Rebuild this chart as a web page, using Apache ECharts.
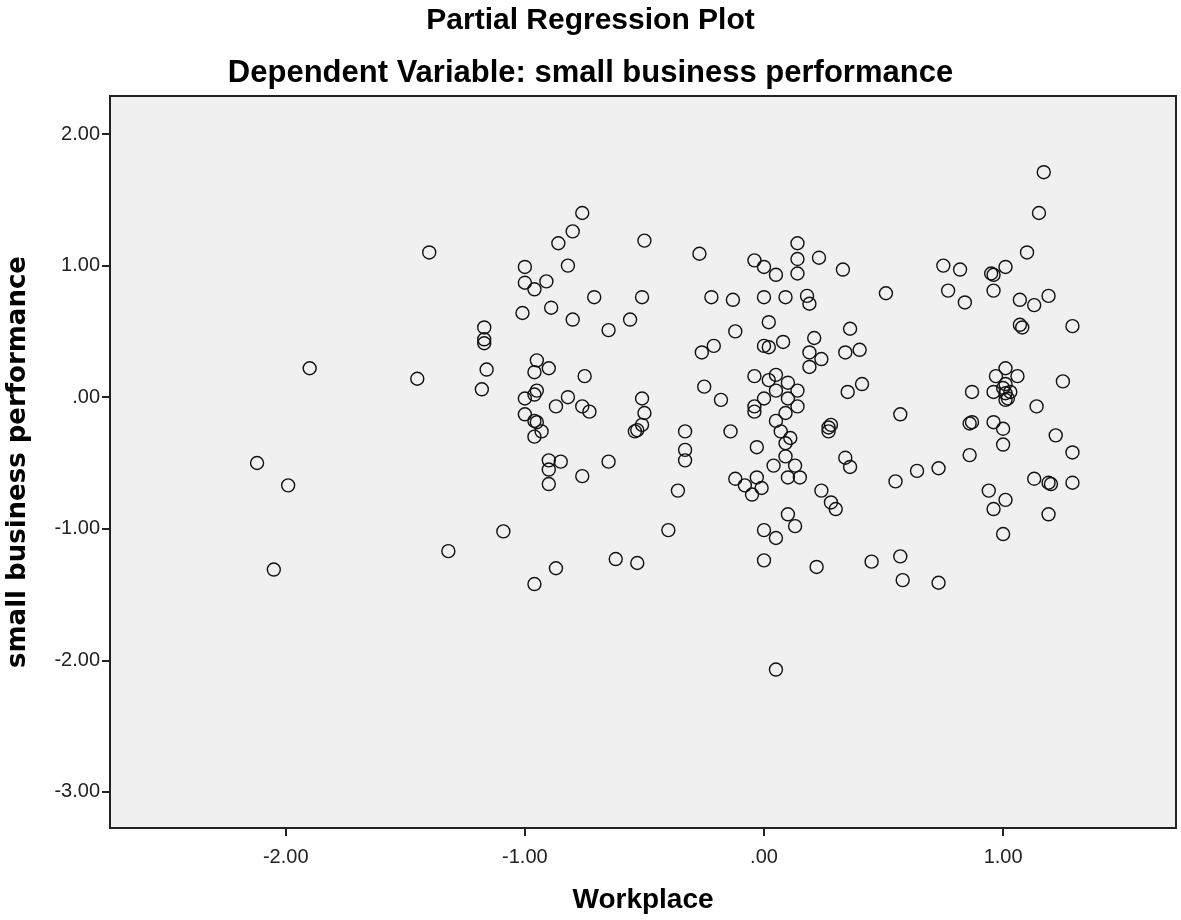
<!DOCTYPE html>
<html>
<head>
<meta charset="utf-8">
<script src="https://cdn.jsdelivr.net/npm/echarts@6/dist/echarts.min.js"></script>
<style>
html,body{margin:0;padding:0;background:#fff;}
#chart{width:1181px;height:920px;}
</style>
</head>
<body>
<div id="chart"></div>
<script>
const chartTitle = "Partial Regression Plot";
const chartSubtitle = "Dependent Variable: small business performance";
const xAxisName = "Workplace";
const yAxisName = "small business performance";

const xTickValues = [-2, -1, 0, 1];
const yTickValues = [-3, -2, -1, 0, 1, 2];

const workplaceX = [
  -2.12, -1.99, -2.05, -1.90, -1.40, -1.45, -1.32, -1.09,
  -1.17, -1.17, -1.17, -1.16, -1.18,
  -0.76, -0.80, -0.86, -0.50, -0.27, -1.00, -0.82, -1.00, -0.91, -0.96, -1.01, -0.89, -0.80, -0.71, -0.65, -0.56, -0.51, -0.22, -0.13, -0.12, -0.26, -0.21,
  -0.04, 0.00, 0.05, 0.14, 0.14, 0.14, 0.23, 0.33, 0.00, 0.09, 0.18, 0.19, 0.02, 0.00, 0.02, 0.08, 0.21, 0.36, 0.34, 0.40, 0.19, 0.24, 0.19, 0.35, 0.41,
  1.17, 1.15, 1.10, 0.75, 0.82, 0.96, 0.95, 1.01, 0.51, 0.77, 0.84, 0.96, 1.07, 1.13, 1.19, 1.07, 1.08, 1.29,
  -0.95, -0.90, -0.96, -0.75, -0.95, -0.96, -1.00, -0.82, -0.87, -0.76, -0.73, -1.00, -0.96, -0.95, -0.93, -0.96, -0.51, -0.50, -0.51, -0.54, -0.53, -0.33, -0.33, -0.33, -0.14, -0.25, -0.18, -0.03,
  -0.04, 0.02, 0.05, 0.10, 0.14, 0.05, 0.00, 0.10, 0.14, -0.04, -0.04, 0.09, 0.05, 0.07, 0.11, 0.09, 0.09, 0.13, 0.04, 0.10, 0.15, -0.12, -0.03, -0.08, -0.01, -0.05, 0.24, 0.28, 0.30, 0.27, 0.28, 0.27, 0.34, 0.36, 0.10, 0.13, 0.00, 0.05, 0.00, 0.22, 0.05,
  -0.90, -0.90, -0.85, -0.90, -0.76, -0.65, -0.36, -0.40, -0.87, -0.96, -0.62, -0.53,
  0.57, 0.55, 0.64, 0.73, 0.86, 0.87, 0.86, 0.87, 0.97, 1.01, 1.06, 0.96, 1.01, 1.03, 1.01, 1.01, 1.00, 1.02, 1.25, 1.14, 0.96, 1.00, 1.00, 1.22, 1.29, 1.13, 1.20, 1.19, 1.29, 0.94, 1.01, 0.96, 1.19, 1.00, 0.45, 0.57, 0.58, 0.73
];

const performanceY = [
  -0.50, -0.67, -1.31, 0.22, 1.10, 0.14, -1.17, -1.02,
  0.53, 0.44, 0.41, 0.21, 0.06,
  1.40, 1.26, 1.17, 1.19, 1.09, 0.99, 1.00, 0.87, 0.88, 0.82, 0.64, 0.68, 0.59, 0.76, 0.51, 0.59, 0.76, 0.76, 0.74, 0.50, 0.34, 0.39,
  1.04, 0.99, 0.93, 1.17, 1.05, 0.94, 1.06, 0.97, 0.76, 0.76, 0.77, 0.71, 0.57, 0.39, 0.38, 0.42, 0.45, 0.52, 0.34, 0.36, 0.34, 0.29, 0.23, 0.04, 0.10,
  1.71, 1.40, 1.10, 1.00, 0.97, 0.93, 0.94, 0.99, 0.79, 0.81, 0.72, 0.81, 0.74, 0.70, 0.77, 0.55, 0.53, 0.54,
  0.28, 0.22, 0.19, 0.16, 0.05, 0.02, -0.01, 0.00, -0.07, -0.07, -0.11, -0.13, -0.18, -0.19, -0.26, -0.30, -0.01, -0.12, -0.21, -0.26, -0.25, -0.26, -0.40, -0.48, -0.26, 0.08, -0.02, -0.38,
  0.16, 0.13, 0.17, 0.11, 0.05, 0.05, -0.01, -0.01, -0.07, -0.07, -0.11, -0.12, -0.18, -0.26, -0.31, -0.35, -0.45, -0.52, -0.52, -0.61, -0.61, -0.62, -0.61, -0.67, -0.69, -0.74, -0.71, -0.80, -0.85, -0.23, -0.21, -0.26, -0.46, -0.53, -0.89, -0.98, -1.01, -1.07, -1.24, -1.29, -2.07,
  -0.48, -0.55, -0.49, -0.66, -0.60, -0.49, -0.71, -1.01, -1.30, -1.42, -1.23, -1.26,
  -0.13, -0.64, -0.56, -0.54, -0.44, -0.19, -0.20, 0.04, 0.16, 0.22, 0.16, 0.04, 0.10, 0.04, -0.02, 0.03, 0.07, -0.01, 0.12, -0.07, -0.19, -0.24, -0.36, -0.29, -0.42, -0.62, -0.66, -0.65, -0.65, -0.71, -0.78, -0.85, -0.89, -1.04, -1.25, -1.21, -1.39, -1.41
];

const points = workplaceX.map((x, i) => [x, performanceY[i]]);

function fmt(v) {
  const s = Math.abs(v) < 1e-9 ? '0.00' : v.toFixed(2);
  return s === '0.00' ? '.00' : s;
}

const FONT = '"Liberation Sans", Arial, sans-serif';
const chart = echarts.init(document.getElementById('chart'), null, {renderer: 'canvas'});
chart.setOption({
  animation: false,
  backgroundColor: '#ffffff',
  title: [
    {text: chartTitle, left: 'center', top: 1,
     textStyle: {fontFamily: FONT, fontSize: 30, fontWeight: 'bold', color: '#000'}},
    {text: chartSubtitle, left: 'center', top: 53,
     textStyle: {fontFamily: FONT, fontSize: 31, fontWeight: 'bold', color: '#000'}}
  ],
  grid: {
    left: 110, right: 5, top: 96, bottom: 92,
    outerBoundsMode: 'none', containLabel: false,
    show: true, backgroundColor: '#f0f0f0', borderColor: '#222', borderWidth: 2
  },
  xAxis: {
    type: 'value', min: -2.735, max: 1.723,
    name: xAxisName, nameLocation: 'middle', nameGap: 58,
    nameTextStyle: {fontFamily: FONT, fontSize: 28, fontWeight: 'bold', color: '#000'},
    axisLine: {show: true, onZero: false, lineStyle: {color: '#222', width: 2}},
    axisTick: {show: true, length: 8, customValues: xTickValues, lineStyle: {color: '#222', width: 2}},
    axisLabel: {customValues: xTickValues, formatter: fmt, margin: 19,
      fontFamily: FONT, fontSize: 20, color: '#222'},
    splitLine: {show: false}
  },
  yAxis: {
    type: 'value', min: -3.274, max: 2.289,
    name: yAxisName, nameLocation: 'middle', nameGap: 79, nameRotate: 90,
    nameTextStyle: {fontFamily: '"DejaVu Sans", "Liberation Sans", sans-serif', fontSize: 26, fontWeight: 'bold', color: '#000'},
    axisLine: {show: true, onZero: false, lineStyle: {color: '#222', width: 2}},
    axisTick: {show: true, length: 8, customValues: yTickValues, lineStyle: {color: '#222', width: 2}},
    axisLabel: {customValues: yTickValues, formatter: fmt, margin: 10,
      fontFamily: FONT, fontSize: 20, color: '#222'},
    splitLine: {show: false}
  },
  series: [{
    type: 'scatter',
    data: points,
    symbol: 'circle',
    symbolSize: 13,
    itemStyle: {color: 'rgba(0,0,0,0)', borderColor: '#111', borderWidth: 1.4, opacity: 1},
    emphasis: {disabled: true}
  }]
});
</script>
</body>
</html>
